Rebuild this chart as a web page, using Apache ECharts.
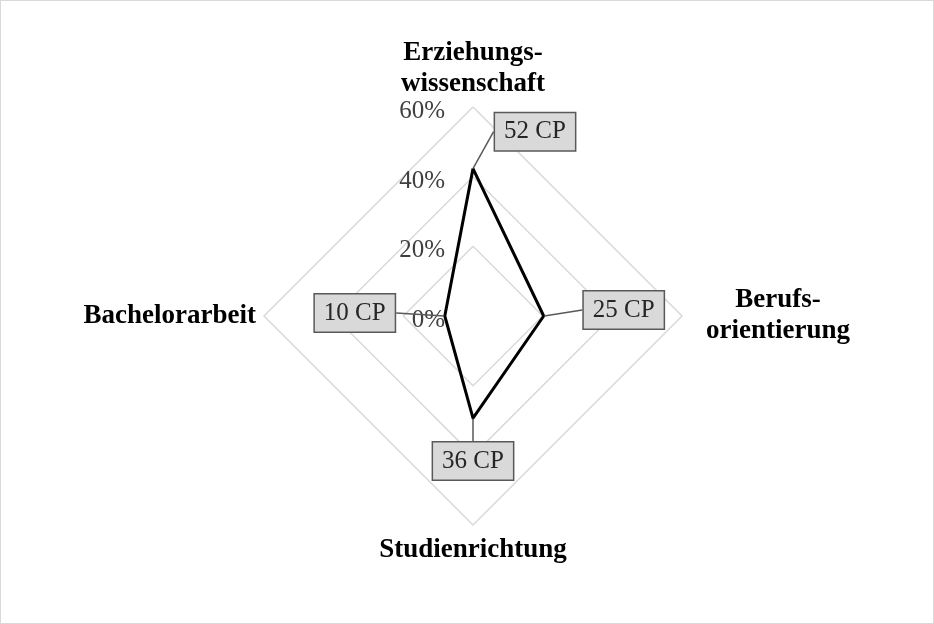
<!DOCTYPE html>
<html>
<head>
<meta charset="utf-8">
<script src="https://cdn.jsdelivr.net/npm/echarts@6/dist/echarts.min.js"></script>
<style>
  html, body { margin: 0; padding: 0; background: #fff; }
  #chart { width: 934px; height: 624px; box-sizing: border-box; border: 1px solid #d9d9d9; }
</style>
</head>
<body>
<div id="chart"></div>
<script>
// order follows echarts radar (counter-clockwise from top)
const categories = ['Erziehungs-\nwissenschaft', 'Bachelorarbeit', 'Studienrichtung', 'Berufs-\norientierung'];
const creditPoints = [52, 10, 36, 25];
const shares = [42.3, 8.1, 29.3, 20.3];   // % of all CP
const axisMax = 60;
const tickCount = 3;

// where each callout box sits relative to its point
const calloutShift = [[62, -37], [-90, -3], [0, 43], [80, -6]];
const nameGaps = [4, 8, 10, 96];

const serif = '"Liberation Serif", "DejaVu Serif", serif';
const cpLabels = creditPoints.map(v => v + ' CP');

const chart = echarts.init(document.getElementById('chart'));

chart.setOption({
  animation: false,
  radar: {
    center: [472, 315],
    radius: 209,
    startAngle: 90,
    shape: 'polygon',
    splitNumber: tickCount,
    axisName: {
      color: '#000',
      fontFamily: serif,
      fontWeight: 'bold',
      fontSize: 27,
      lineHeight: 31
    },
    indicator: categories.map((name, i) => {
      const ind = { name: name, min: 0, max: axisMax, nameGap: nameGaps[i] };
      if (i === 0) {
        ind.axisLabel = {
          show: true,
          color: '#404040',
          fontFamily: serif,
          fontSize: 25,
          margin: 28,
          formatter: v => '{p|' + v + '%}',
          rich: {
            p: { color: '#404040', fontFamily: serif, fontSize: 25, padding: [9, 0, 0, 0] }
          }
        };
      }
      if (i === 3) {
        ind.nameTextStyle = { align: 'center' };
      }
      return ind;
    }),
    axisLine: { show: false },
    axisTick: { show: false },
    axisLabel: { show: false },
    splitLine: { lineStyle: { color: '#d9d9d9', width: 1.5 } },
    splitArea: { show: false }
  },
  series: [{
    type: 'radar',
    symbol: 'circle',
    symbolSize: 1,
    itemStyle: { color: '#000' },
    lineStyle: { color: '#000', width: 3 },
    data: [{ value: shares, name: 'Anteil' }],
    label: {
      show: true,
      position: 'inside',
      formatter: p => cpLabels[shares.indexOf(p.value)],
      color: '#262626',
      fontFamily: serif,
      fontSize: 25,
      backgroundColor: '#d9d9d9',
      borderColor: '#595959',
      borderWidth: 1.5,
      padding: [7, 9, 5, 9]
    },
    labelLine: {
      show: true,
      lineStyle: { color: '#595959', width: 1.5 }
    },
    labelLayout: p => {
      const i = cpLabels.indexOf(p.text);
      if (i < 0) return {};
      return { dx: calloutShift[i][0], dy: calloutShift[i][1] };
    }
  }]
});

window.addEventListener('resize', () => chart.resize());
</script>
</body>
</html>
